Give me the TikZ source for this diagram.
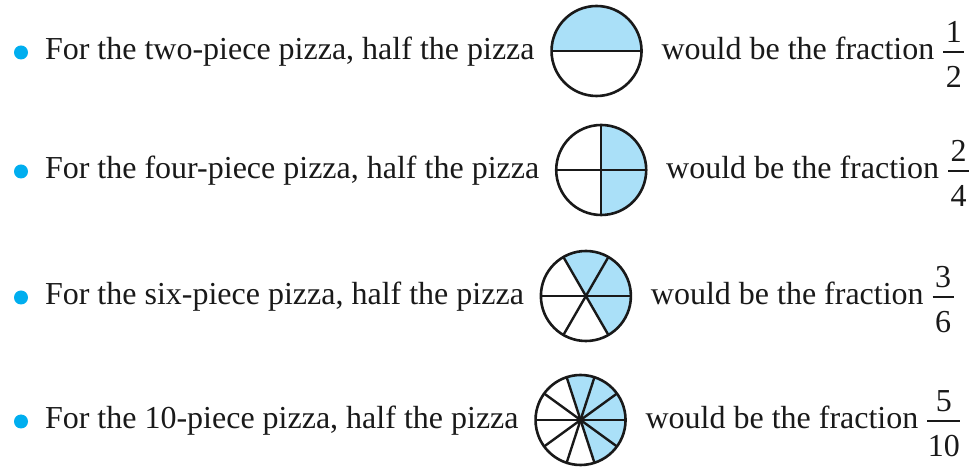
\documentclass[tikz,border=0pt]{standalone}
\usepackage{fontspec}
\setmainfont{Liberation Serif}
\usetikzlibrary{calc}
\definecolor{pizzablue}{RGB}{170,224,248}
\definecolor{bulletblue}{RGB}{0,174,239}
\tikzset{
  txt/.style={inner sep=0pt, outer sep=0pt, font=\fontsize{32}{38}\selectfont, text=black!90, anchor=base west},
  num/.style={inner sep=0pt, outer sep=0pt, font=\fontsize{32}{38}\selectfont, text=black!90, anchor=base},
  pie/.style={circle, minimum size=90pt, inner sep=0pt, outer sep=0pt},
  rim/.style={line width=2.6pt, draw=black!90},
  cut/.style={line width=2.4pt, draw=black!90},
  wedge/.style={fill=pizzablue},
  bul/.style={circle, fill=bulletblue, minimum size=14pt, inner sep=0pt},
  fbar/.style={line width=2pt, draw=black!90}
}
\begin{document}
\begin{tikzpicture}[x=1pt,y=1pt]
\useasboundingbox (0,0) rectangle (974,468);
% Row 1
\node[bul] (b1) at (21,415.5) {};
\node[txt] (t1) at (45,408) {For the two-piece pizza, half the pizza};
\node[pie] (c1) at ([shift={(62pt,9pt)}]t1.base east) {};
\fill[wedge] (c1.0) arc[start angle=0, end angle=180, radius=45pt] -- cycle;
\draw[cut] (c1.180) -- (c1.0);
\draw[rim] (c1.center) circle[radius=45pt];
\node[txt] (u1) at ([shift={(20pt,-9pt)}]c1.east) {would be the fraction};
\coordinate (f1a) at ([shift={(9pt,8pt)}]u1.base east);
\coordinate (f1b) at ([shift={(21pt,0pt)}]f1a);
\draw[fbar] (f1a) -- (f1b);
\node[num] (n1) at ($(f1a)!0.5!(f1b)+(0,9pt)$) {1};
\node[num] (d1) at ($(f1a)!0.5!(f1b)+(0,-36pt)$) {2};
% Row 2
\node[bul] (b2) at (21,296.5) {};
\node[txt] (t2) at (45,289) {For the four-piece pizza, half the pizza};
\node[pie] (c2) at ([shift={(62pt,9pt)}]t2.base east) {};
\fill[wedge] (c2.center) -- (c2.-90) arc[start angle=-90, end angle=90, radius=45pt] -- cycle;
\draw[cut] (c2.180) -- (c2.0);
\draw[cut] (c2.90) -- (c2.-90);
\draw[rim] (c2.center) circle[radius=45pt];
\node[txt] (u2) at ([shift={(20pt,-9pt)}]c2.east) {would be the fraction};
\coordinate (f2a) at ([shift={(9pt,8pt)}]u2.base east);
\coordinate (f2b) at ([shift={(21pt,0pt)}]f2a);
\draw[fbar] (f2a) -- (f2b);
\node[num] (n2) at ($(f2a)!0.5!(f2b)+(0,9pt)$) {2};
\node[num] (d2) at ($(f2a)!0.5!(f2b)+(0,-36pt)$) {4};
% Row 3
\node[bul] (b3) at (21,170.5) {};
\node[txt] (t3) at (45,163) {For the six-piece pizza, half the pizza};
\node[pie] (c3) at ([shift={(62pt,9pt)}]t3.base east) {};
\fill[wedge] (c3.center) -- (c3.-60) arc[start angle=-60, end angle=120, radius=45pt] -- cycle;
\draw[cut] (c3.180) -- (c3.0);
\draw[cut] (c3.60) -- (c3.240);
\draw[cut] (c3.120) -- (c3.300);
\draw[rim] (c3.center) circle[radius=45pt];
\node[txt] (u3) at ([shift={(20pt,-9pt)}]c3.east) {would be the fraction};
\coordinate (f3a) at ([shift={(9pt,8pt)}]u3.base east);
\coordinate (f3b) at ([shift={(21pt,0pt)}]f3a);
\draw[fbar] (f3a) -- (f3b);
\node[num] (n3) at ($(f3a)!0.5!(f3b)+(0,9pt)$) {3};
\node[num] (d3) at ($(f3a)!0.5!(f3b)+(0,-36pt)$) {6};
% Row 4
\node[bul] (b4) at (21,46.5) {};
\node[txt] (t4) at (45,39) {For the 10-piece pizza, half the pizza};
\node[pie] (c4) at ([shift={(62pt,9pt)}]t4.base east) {};
\fill[wedge] (c4.center) -- (c4.-72) arc[start angle=-72, end angle=108, radius=45pt] -- cycle;
\draw[cut] (c4.180) -- (c4.0);
\draw[cut] (c4.36) -- (c4.216);
\draw[cut] (c4.72) -- (c4.252);
\draw[cut] (c4.108) -- (c4.288);
\draw[cut] (c4.144) -- (c4.324);
\draw[rim] (c4.center) circle[radius=45pt];
\node[txt] (u4) at ([shift={(20pt,-9pt)}]c4.east) {would be the fraction};
\coordinate (f4a) at ([shift={(9pt,8pt)}]u4.base east);
\coordinate (f4b) at ([shift={(33pt,0pt)}]f4a);
\draw[fbar] (f4a) -- (f4b);
\node[num] (n4) at ($(f4a)!0.5!(f4b)+(0,9pt)$) {5};
\node[num] (d4) at ($(f4a)!0.5!(f4b)+(0,-36pt)$) {10};
\end{tikzpicture}
\end{document}
